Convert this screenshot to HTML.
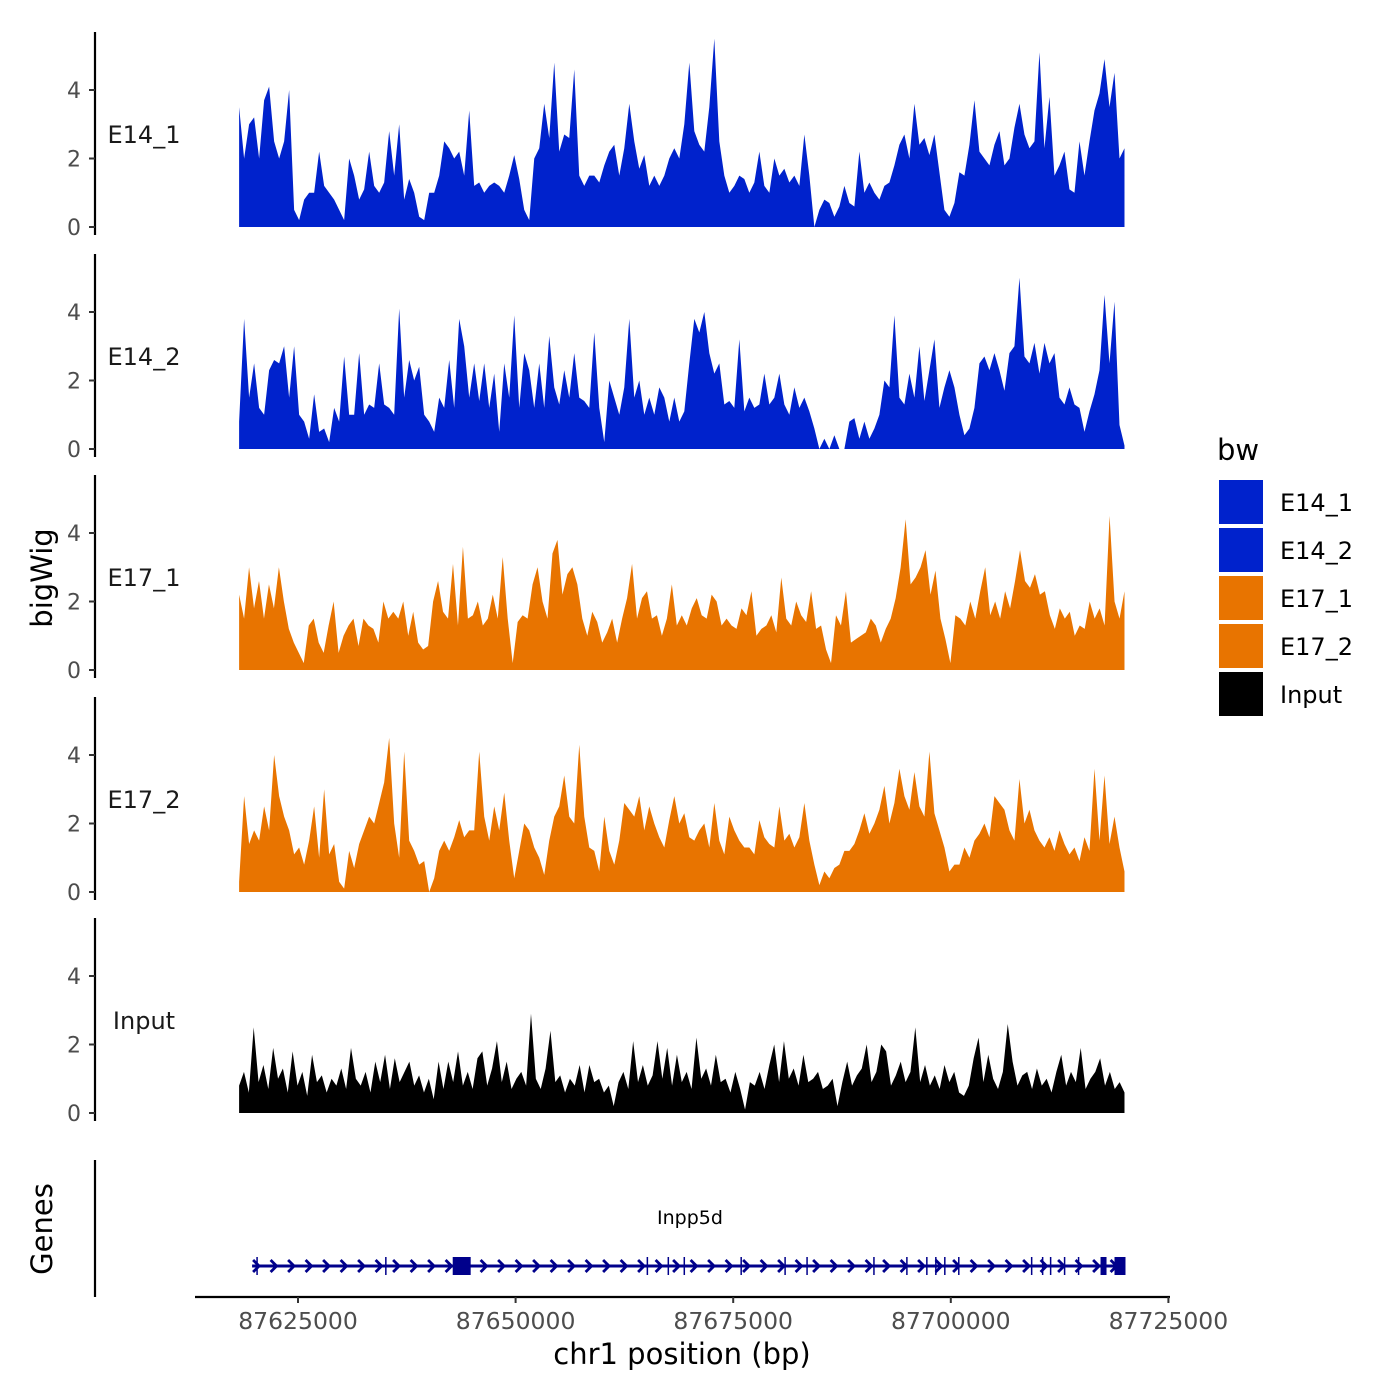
<!DOCTYPE html>
<html><head><meta charset="utf-8"><style>
body{margin:0;background:#fff;}
svg{display:block;font-family:"DejaVu Sans","Liberation Sans",sans-serif;}
</style></head><body>
<svg id="chart" width="1400" height="1400" viewBox="0 0 1400 1400">
<g id="tracks"></g>
<g id="genes"></g>
<g id="xaxis"></g>
<text x="52" y="578" transform="rotate(-90 52 578)" text-anchor="middle" font-size="29" fill="#000">bigWig</text>
<text x="52" y="1229" transform="rotate(-90 52 1229)" text-anchor="middle" font-size="29" fill="#000">Genes</text>
<text x="682" y="1364" text-anchor="middle" font-size="29" fill="#000">chr1 position (bp)</text>
<g id="legend">
<text x="1217" y="460" font-size="29" fill="#000">bw</text>
</g>
</svg>
<script>
const trackNames = ["E14_1","E14_2","E17_1","E17_2","Input"];
const trackColors = ["#0022CC","#0022CC","#E87400","#E87400","#000000"];
const yTicks = [0,2,4];
const xTicks = [87625000,87650000,87675000,87700000,87725000];
const dataStart = 87618234, dataEnd = 87719955;
const geneStart = 87619725, geneEnd = 87719955;
const geneName = "Inpp5d";
const exonStarts = [87620298,87635092,87642775,87665138,87667546,87669381,87675917,87680963,87683487,87691170,87694955,87697248,87698280,87699312,87700918,87709290,87710551,87711469,87713074,87714680,87717203,87718808];
const exonEnds   = [87620298,87635092,87644840,87665138,87667546,87669381,87675917,87680963,87683487,87691170,87694955,87697248,87698280,87699312,87700918,87709290,87710551,87711469,87713074,87714680,87717891,87720070];

const e14_1 = [3.5,2,3,3.2,2,3.7,4.1,2.5,2,2.5,4,0.5,0.2,0.8,1,1,2.2,1.2,1.0,0.8,0.5,0.2,2,1.5,0.8,1.1,2.2,1.2,1,1.3,2.8,1.5,3,0.8,1.4,1,0.3,0.2,1,1,1.5,2.5,2.3,2,2.2,1.5,3.4,1.2,1.3,1,1.2,1.3,1.2,1,1.5,2.1,1.4,0.5,0.2,2,2.3,3.6,2.6,4.8,2.2,2.7,2.6,4.6,1.5,1.2,1.5,1.5,1.3,1.8,2.2,2.4,1.5,2.3,3.6,2.5,1.7,2.1,1.2,1.5,1.2,1.5,2,2.3,2,3,4.8,2.8,2.4,2.2,3.5,5.5,2.5,1.5,1,1.2,1.5,1.4,1.0,1.3,2.2,1.2,1.0,2,1.5,1.7,1.3,1.5,1.2,2.7,1.5,0,0.5,0.8,0.7,0.3,0.6,1.2,0.7,0.6,2.2,1,1.3,1,0.8,1.2,1.3,1.8,2.4,2.7,2.0,3.6,2.4,2.6,2.1,2.7,1.6,0.5,0.3,0.7,1.6,1.5,2.4,3.7,2.2,2,1.8,2.4,2.8,1.8,2,2.9,3.6,2.7,2.3,2.5,5.1,2.3,3.8,1.5,1.8,2.2,1.1,1.0,2.5,1.5,2.5,3.4,3.9,4.9,3.5,4.5,2.0,2.3];
const e14_2 = [0.8,3.8,1.5,2.5,1.2,1,2.3,2.6,2.5,3,1.5,3,1,0.8,0.3,1.6,0.5,0.6,0.2,1.2,0.8,2.7,1,1,2.8,1,1.3,1.2,2.5,1.3,1.2,1,4.1,1.5,2.6,2,2.4,1,0.8,0.5,1.5,1.2,2.6,1.2,3.8,3,1.5,2.5,1.4,2.5,1.2,2.2,0.5,2.5,1.5,3.9,1.2,2.8,2.3,1.2,2.5,1.2,3.3,1.8,1.3,2.3,1.5,2.8,1.5,1.4,1.2,3.4,1.2,0.2,2,1.5,1,1.8,3.8,1.5,2,1,1.5,1,1.8,1.5,0.8,1.5,0.8,1.1,2.5,3.8,3.4,4,2.8,2.2,2.5,1.3,1.4,1.2,3.2,1.1,1.5,1.2,1.3,2.2,1.3,1.5,2.2,1.3,1,1.8,1.2,1.5,1.1,0.6,0,0.3,0,0.4,0,0,0.8,0.9,0.3,0.8,0.3,0.6,1,2,1.8,3.9,1.5,1.3,2.2,1.5,3,1.4,2.3,3.2,1.2,1.8,2.3,1.8,1,0.4,0.6,1.2,2.5,2.7,2.3,2.8,2.3,1.7,2.8,3,5,2.7,2.5,3.1,2.2,3.1,2.5,2.8,1.5,1.3,1.8,1.3,1.2,0.5,1.1,1.6,2.3,4.5,2.5,4.3,0.7,0.1];
const e17_1 = [2.2,1.5,3,1.8,2.6,1.5,2.5,1.8,3,2,1.2,0.8,0.5,0.2,1.3,1.5,0.8,0.5,1.3,2,0.5,1,1.3,1.5,0.7,1.5,1.3,1.2,0.8,2,1.5,1.7,1.5,2,1,1.7,0.8,0.6,0.7,2,2.6,1.7,1.5,3.1,1.3,3.6,1.5,1.6,2,1.3,1.5,2.2,1.5,3.3,1.5,0.2,1.4,1.6,1.5,2.5,3,2,1.5,3.4,3.8,2.2,2.8,3,2.5,1.5,1,1.7,1.4,0.8,1.1,1.5,0.8,1.5,2.1,3.1,1.5,2.1,2.3,1.5,1.6,1,1.5,2.5,1.3,1.6,1.3,1.8,2.1,1.6,1.5,2.2,2,1.3,1.5,1.3,1.2,1.8,1.6,2.3,1,1.2,1.3,1.6,1.1,2.7,1.5,1.3,2,1.6,1.4,2.3,1.2,1.3,0.6,0.2,1.6,1.3,2.3,0.8,0.9,1,1.1,1.5,1.3,0.8,1.2,1.5,2.1,3,4.4,2.5,2.7,3,3.5,2.2,2.9,1.5,0.9,0.2,1.6,1.5,1.3,2,1.5,2.3,3,1.6,2,1.5,2.3,1.8,2.6,3.5,2.6,2.4,2.8,2.2,2.3,1.6,1.2,1.8,1.5,1.7,1,1.3,1.2,2,1.5,1.8,1.3,4.5,2,1.5,2.3];
const e17_2 = [0.3,2.8,1.4,1.8,1.5,2.5,1.8,4,2.8,2.2,1.8,1.1,1.3,0.8,1.5,2.5,1,3,1.1,1.4,0.3,0.1,1.2,0.7,1.4,1.8,2.2,2,2.6,3.2,4.5,2,1,4.1,1.5,1.2,0.8,0.9,0,0.4,1.2,1.5,1.2,1.6,2.1,1.6,1.8,1.8,4.1,2.2,1.5,2.5,1.8,2.9,1.5,0.4,1.2,2,1.8,1.3,1,0.5,1.5,2.2,2.5,3.4,2.2,2,4.3,2.2,1.3,1.2,0.6,2.2,1.2,0.8,1.5,2.6,2.4,2.2,2.8,1.8,2.5,2,1.6,1.3,2.1,2.8,2,2.3,1.6,1.5,1.8,2,1.3,2.6,1.5,1.1,2.2,1.8,1.5,1.3,1.3,1.1,2.1,1.6,1.4,1.3,2.5,1.5,1.7,1.3,1.6,2.6,1.5,0.8,0.2,0.6,0.4,0.7,0.8,1.2,1.2,1.4,1.8,2.3,1.7,2,2.4,3.1,2,2.6,3.6,2.8,2.4,3.5,2.5,2.2,4.1,2.3,1.8,1.3,0.6,0.8,0.8,1.3,1,1.5,1.7,2,1.6,2.8,2.6,2.4,1.8,1.5,3.3,2,2.4,1.8,1.5,1.3,1.6,1.2,1.8,1.4,1.1,1.3,0.9,1.6,1.2,3.6,1.5,3.4,1.4,2.2,1.3,0.6];
const input = [0.8,1.2,0.6,2.5,0.9,1.4,0.7,1.9,1.0,1.3,0.6,1.8,0.8,1.2,0.5,1.7,0.9,1.1,0.6,1.0,0.8,1.3,0.7,1.9,1.0,0.8,1.2,0.6,1.5,0.9,1.7,0.7,1.6,0.9,1.2,1.5,0.8,1.1,0.6,1.0,0.4,1.5,0.7,1.5,0.9,1.8,0.8,1.2,0.7,1.6,1.8,0.8,1.3,2.1,0.9,1.5,0.7,1.0,1.2,0.8,2.9,1.0,0.7,1.3,2.4,0.9,1.1,0.6,1.0,0.8,1.4,0.6,1.4,0.9,1.0,0.6,0.8,0.2,0.9,1.2,0.7,2.1,0.9,1.4,0.8,1.1,2.1,1.0,1.9,0.8,1.7,0.9,1.2,0.7,2.2,1.0,1.3,0.8,1.7,0.9,1.0,0.6,1.2,0.7,0.1,0.9,0.8,1.2,0.7,1.4,2.0,0.9,2.1,1.0,1.3,0.8,1.7,0.9,1.0,1.2,0.7,0.8,1.0,0.2,0.9,1.5,0.8,1.1,1.3,2.0,0.9,1.2,2.0,1.8,0.8,1.1,1.5,0.9,1.2,2.5,0.9,1.4,0.8,1.1,0.7,1.4,0.9,1.2,0.6,0.5,0.8,1.6,2.2,0.9,1.7,1.0,0.7,1.2,2.6,1.5,0.8,1.1,1.2,0.7,1.3,0.8,1.0,0.6,1.2,1.7,0.8,1.2,0.9,1.9,0.7,1.0,1.2,1.6,0.8,1.2,0.7,0.9,0.6];
const trackData = [e14_1,e14_2,e17_1,e17_2,input];

const NS="http://www.w3.org/2000/svg";
function mk(tag, attrs, parent){const e=document.createElementNS(NS,tag);for(const k in attrs)e.setAttribute(k,attrs[k]);parent.appendChild(e);return e;}
const xScale = bp => 298 + (bp-87625000)/25000*217.6;
const zeros = [227,449,670,892,1113];
const unit = 34.25;
const tracks = document.getElementById('tracks');

trackNames.forEach((name,t)=>{
  const z = zeros[t];
  const yS = v => z - v*unit;
  const g = mk('g',{},tracks);
  
  
  const ax = mk('line',{x1:95,x2:95,y1:z-195,y2:z+8,stroke:'#000','stroke-width':2.2},g);
  
  
  yTicks.forEach(v=>{
    const tk = mk('line',{x1:89,x2:95,y1:yS(v),y2:yS(v),stroke:'#333','stroke-width':2},g);
    
    
    const tl = mk('text',{x:81,y:yS(v)+8,'text-anchor':'end','font-size':22,fill:'#4d4d4d'},g);
    
    
    tl.textContent = v;
  });
  const lab = mk('text',{x:144,y:z-84,'text-anchor':'middle','font-size':24,fill:'#1a1a1a'},g);
  
  
  lab.textContent = name;
  const vals = trackData[t];
  const n = vals.length;
  let d = 'M'+xScale(dataStart)+','+z;
  vals.forEach((v,i)=>{
    const bp = dataStart + (dataEnd-dataStart)*i/(n-1);
    d += ' L'+xScale(bp).toFixed(2)+','+yS(v).toFixed(2);
  });
  d += ' L'+xScale(dataEnd)+','+z+' Z';
  const p = mk('path',{d:d,fill:trackColors[t],stroke:'none'},g);
  
  
});

// genes
const gg = document.getElementById('genes');
const gax = mk('line',{x1:95,x2:95,y1:1160,y2:1297,stroke:'#000','stroke-width':2.2},gg);


const gl = mk('line',{x1:xScale(geneStart),x2:xScale(geneEnd),y1:1266,y2:1266,stroke:'#00008B','stroke-width':3},gg);


for(let x=xScale(geneStart)+4; x<xScale(geneEnd)-6; x+=17.5){
  const a = mk('polyline',{points:(x-3)+',1260 '+(x+3)+',1266 '+(x-3)+',1272',fill:'none',stroke:'#00008B','stroke-width':2.8},gg);
  
  
}
exonStarts.forEach((s,i)=>{
  const x1=xScale(s), x2=xScale(exonEnds[i]);
  const w=Math.max(1.5,x2-x1);
  const ex = mk('rect',{x:x1-(w<2?0.75:0),y:1257,width:w,height:18,fill:'#00008B'},gg);
  
  
});
const gt = mk('text',{x:690,y:1224,'text-anchor':'middle','font-size':19,fill:'#000'},gg);


gt.textContent = geneName;

// x axis
const xa = document.getElementById('xaxis');
const xl = mk('line',{x1:195,x2:1170,y1:1297,y2:1297,stroke:'#000','stroke-width':2.2},xa);


xTicks.forEach(v=>{
  const x=xScale(v);
  const tk = mk('line',{x1:x,x2:x,y1:1297,y2:1303,stroke:'#333','stroke-width':2},xa);
  
  
  const tl = mk('text',{x:x,y:1329,'text-anchor':'middle','font-size':23.5,fill:'#4d4d4d'},xa);
  
  
  tl.textContent = v;
});

// legend
const lg = document.getElementById('legend');
trackNames.forEach((name,i)=>{
  const y = 480 + i*48;
  const r = mk('rect',{x:1219,y:y,width:44,height:44,fill:trackColors[i]},lg);
  
  
  const t = mk('text',{x:1280,y:y+31,'font-size':24,fill:'#000'},lg);
  
  
  t.textContent = name;
});
</script>
</body></html>
